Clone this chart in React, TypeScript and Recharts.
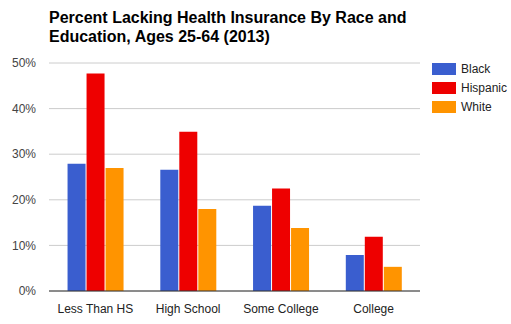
import { BarChart, Bar, XAxis, YAxis, CartesianGrid } from "recharts";

const categories = ["Less Than HS", "High School", "Some College", "College"];
const black = [27.9, 26.6, 18.7, 7.9];
const hispanic = [47.7, 34.9, 22.5, 11.9];
const white = [27.0, 18.0, 13.8, 5.3];
const yTicks = [0, 10, 20, 30, 40, 50];

const series = [
  { key: "Black", color: "#3a5ecf" },
  { key: "Hispanic", color: "#ee0000" },
  { key: "White", color: "#ff9400" },
];

const data = categories.map((c, i) => ({
  name: c,
  Black: black[i],
  Hispanic: hispanic[i],
  White: white[i],
}));

const font = "Arial, 'Liberation Sans', sans-serif";

function LegendBox() {
  return (
    <div style={{ position: "absolute", left: 432, top: 59, fontFamily: font, fontSize: 12, color: "#222" }}>
      {series.map((s) => (
        <div key={s.key} style={{ display: "flex", alignItems: "center", height: 19 }}>
          <span style={{ display: "inline-block", width: 24, height: 12, background: s.color, marginRight: 5 }} />
          <span>{s.key}</span>
        </div>
      ))}
    </div>
  );
}

export default function App() {
  return (
    <div style={{ position: "fixed", top: 0, left: 0, width: 511, height: 324, background: "#fff" }}>
      <div
        style={{
          position: "absolute",
          top: 8,
          left: 49,
          fontFamily: font,
          fontWeight: "bold",
          fontSize: 16,
          lineHeight: "19px",
          color: "#000",
          width: 440,
        }}
      >
        Percent Lacking Health Insurance By Race and
        <br />
        Education, Ages 25-64 (2013)
      </div>
      <BarChart
        width={511}
        height={324}
        data={data}
        margin={{ top: 63, right: 91, bottom: 3, left: 0 }}
        barCategoryGap="20%"
        barGap={1}
      >
        <CartesianGrid vertical={false} stroke="#ccc" />
        <XAxis
          dataKey="name"
          height={30}
          axisLine={{ stroke: "#333" }}
          tickLine={false}
          tickSize={0}
          tickMargin={13}
          tick={{ fill: "#222", fontSize: 12, fontFamily: font }}
        />
        <YAxis
          width={49}
          domain={[0, 50]}
          ticks={yTicks}
          tickFormatter={(v) => `${v}%`}
          axisLine={false}
          tickLine={false}
          tickSize={0}
          tickMargin={13}
          tick={{ fill: "#444", fontSize: 12, fontFamily: font }}
        />
        {series.map((s) => (
          <Bar key={s.key} dataKey={s.key} fill={s.color} isAnimationActive={false} />
        ))}
      </BarChart>
      <LegendBox />
    </div>
  );
}
